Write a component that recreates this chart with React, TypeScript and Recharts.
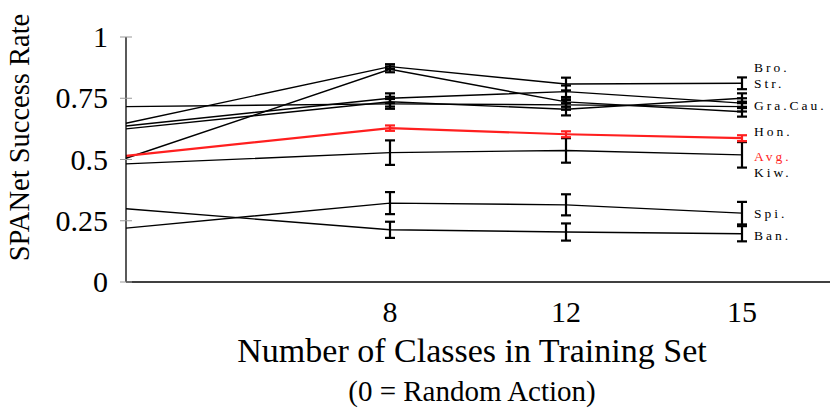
import React from "react";
import { LineChart, Line, XAxis, YAxis, ErrorBar, ReferenceDot, Label } from "recharts";

// Number of classes in the training set (0 = random action)
const classCounts = [0, 8, 12, 15];

// Success rates per object class
const strRate = [0.648, 0.879, 0.808, 0.811];
const strErr = [null, 0.01, 0.026, 0.024];
const broRate = [0.505, 0.868, 0.735, 0.695];
const broErr = [null, 0.012, 0.02, 0.02];
const graRate = [0.716, 0.727, 0.723, 0.716];
const graErr = [null, 0.02, 0.02, 0.02];
const cauRate = [0.637, 0.75, 0.777, 0.73];
const cauErr = [null, 0.02, 0.025, 0.02];
const honRate = [0.625, 0.736, 0.705, 0.75];
const honErr = [null, 0.02, 0.025, 0.02];
const kiwRate = [0.482, 0.528, 0.537, 0.519];
const kiwErr = [null, 0.05, 0.05, 0.052];
const spiRate = [0.22, 0.322, 0.315, 0.281];
const spiErr = [null, 0.045, 0.043, 0.046];
const banRate = [0.299, 0.213, 0.204, 0.197];
const banErr = [null, 0.033, 0.035, 0.031];
const avgRate = [0.515, 0.628, 0.603, 0.587];
const avgErr = [null, 0.011, 0.012, 0.012];

// Right-hand annotation labels and the value level they sit at
const labelTexts = ["Bro.", "Str.", "Gra.Cau.", "Hon.", "Avg.", "Kiw.", "Spi.", "Ban."];
const labelLevels = [0.876, 0.813, 0.723, 0.614, 0.512, 0.449, 0.281, 0.189];

const yTicks = [0, 0.25, 0.5, 0.75, 1];

// the axis places the class counts at non-uniform slots, as in the reference
const axisSlot: Record<number, number> = { 0: 0, 8: 1.5, 12: 2.5, 15: 3.5 };
const slotToCount: Record<string, number> = { "1.5": 8, "2.5": 12, "3.5": 15 };

const series = [
  { key: "str", rate: strRate, err: strErr },
  { key: "bro", rate: broRate, err: broErr },
  { key: "gra", rate: graRate, err: graErr },
  { key: "cau", rate: cauRate, err: cauErr },
  { key: "hon", rate: honRate, err: honErr },
  { key: "kiw", rate: kiwRate, err: kiwErr },
  { key: "spi", rate: spiRate, err: spiErr },
  { key: "ban", rate: banRate, err: banErr },
  { key: "avg", rate: avgRate, err: avgErr },
];

const data = classCounts.map((c, i) => {
  const row: Record<string, number | null> = { pos: axisSlot[c] };
  series.forEach((s) => {
    row[s.key] = s.rate[i];
    row[s.key + "Err"] = s.err[i];
  });
  return row;
});

const FONT = "'Liberation Serif', 'DejaVu Serif', serif";

const XTick = (props: any) => {
  const { x, y, payload } = props;
  return (
    <text x={x} y={y + 32} textAnchor="middle" fontSize={30} fontFamily={FONT} fill="#000">
      {slotToCount[String(payload.value)]}
    </text>
  );
};

const YTick = (props: any) => {
  const { x, y, payload } = props;
  return (
    <g>
      <line x1={x + 2} x2={x + 14} y1={y} y2={y} stroke="#999" strokeWidth={1} />
      <text x={x - 10} y={y} dy="0.34em" textAnchor="end" fontSize={30} fontFamily={FONT} fill="#000">
        {String(payload.value)}
      </text>
    </g>
  );
};

const XTitle = (props: any) => {
  const vb = props.viewBox || {};
  const cx = vb.x + vb.width / 2 - 6;
  const top = vb.y;
  return (
    <g>
      <text x={cx} y={top + 80} textAnchor="middle" fontSize={34} fontFamily={FONT} fill="#000">
        Number of Classes in Training Set
      </text>
      <text x={cx} y={top + 119} textAnchor="middle" fontSize={29} fontFamily={FONT} fill="#000">
        (0 = Random Action)
      </text>
    </g>
  );
};

const YTitle = (props: any) => {
  const vb = props.viewBox || {};
  const cy = vb.y + vb.height / 2 - 22;
  const bx = 29;
  return (
    <text
      x={bx}
      y={cy}
      transform={`rotate(-90, ${bx}, ${cy})`}
      textAnchor="middle"
      fontSize={28.5}
      fontFamily={FONT}
      fill="#000"
    >
      SPANet Success Rate
    </text>
  );
};

export default function App() {
  return (
    <div style={{ position: "absolute", left: 0, top: 0, width: 832, height: 420, background: "#fff" }}>
      <LineChart
        width={832}
        height={420}
        data={data}
        margin={{ top: 37, right: 2, left: 0, bottom: 0 }}
        style={{ fontFamily: FONT }}
      >
        <XAxis
          dataKey="pos"
          type="number"
          domain={[0, 4]}
          ticks={[1.5, 2.5, 3.5]}
          height={138}
          axisLine={{ stroke: "#000", strokeWidth: 1.3 }}
          tickLine={false}
          tick={<XTick />}
          interval={0}
        >
          <Label content={<XTitle />} />
        </XAxis>
        <YAxis
          type="number"
          domain={[0, 1]}
          ticks={yTicks}
          width={126}
          axisLine={{ stroke: "#000", strokeWidth: 1.3 }}
          tickLine={false}
          tick={<YTick />}
          interval={0}
        >
          <Label content={<YTitle />} />
        </YAxis>
        {series.map((s) => {
          const isAvg = s.key === "avg";
          const color = isAvg ? "#ff1f1f" : "#000";
          return (
            <Line
              key={s.key}
              dataKey={s.key}
              stroke={color}
              strokeWidth={isAvg ? 2.2 : 1.4}
              dot={false}
              activeDot={false}
              isAnimationActive={false}
            >
              <ErrorBar
                dataKey={s.key + "Err"}
                width={5}
                strokeWidth={2.2}
                stroke={color}
                direction="y"
                isAnimationActive={false}
              />
            </Line>
          );
        })}
        {labelTexts.map((t, i) => (
          <ReferenceDot
            key={t}
            x={3.5}
            y={labelLevels[i]}
            r={0}
            fill="none"
            stroke="none"
            ifOverflow="visible"
            label={{
              value: t,
              position: "right",
              offset: 12,
              fontSize: 13.5,
              fontFamily: FONT,
              fill: t === "Avg." ? "#ff1f1f" : "#000",
              letterSpacing: 3,
            }}
          />
        ))}
      </LineChart>
    </div>
  );
}
